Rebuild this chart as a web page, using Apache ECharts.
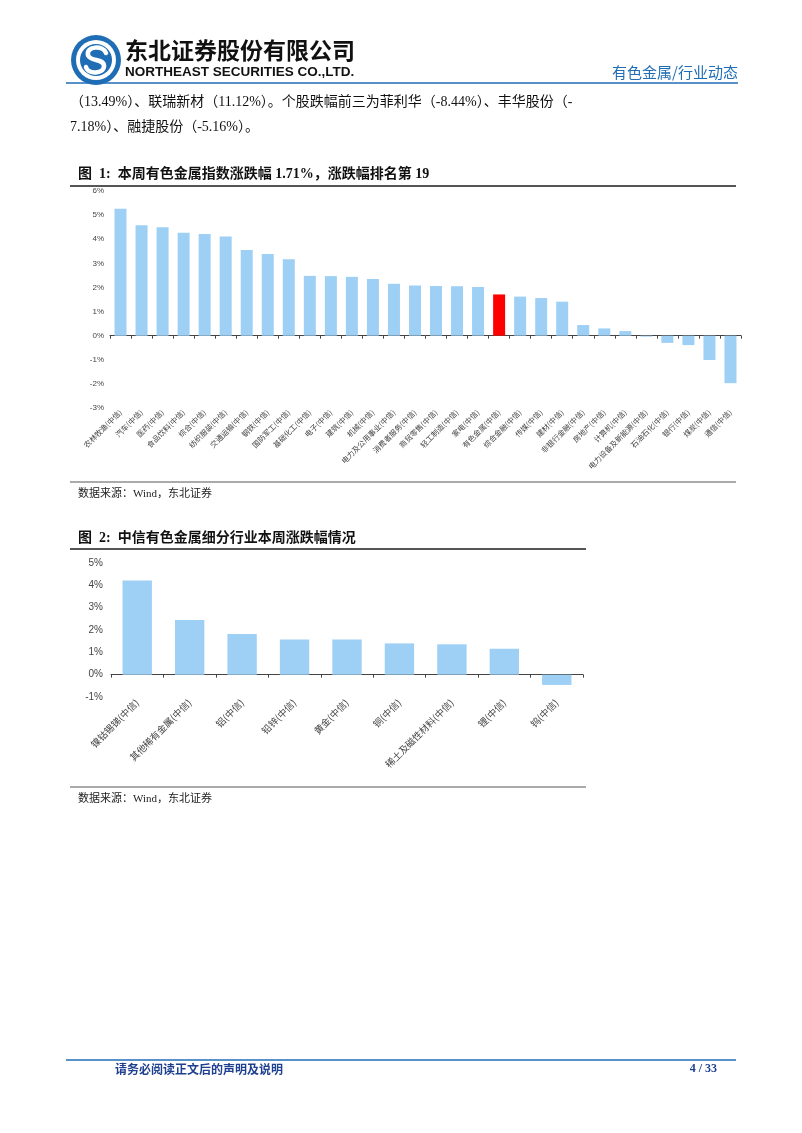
<!DOCTYPE html>
<html><head><meta charset="utf-8">
<script src="https://cdn.jsdelivr.net/npm/echarts@6/dist/echarts.min.js"></script>
<style>html,body{margin:0;padding:0;background:#fff}#c{width:802px;height:1133px}</style>
</head><body><div id="c"></div>
<script>
// ---- Data: Figure 1 (中信一级行业本周涨跌幅) ----
const industries = ['农林牧渔(中信)','汽车(中信)','医药(中信)','食品饮料(中信)','综合(中信)','纺织服装(中信)','交通运输(中信)','钢铁(中信)','国防军工(中信)','基础化工(中信)','电子(中信)','建筑(中信)','机械(中信)','电力及公用事业(中信)','消费者服务(中信)','商贸零售(中信)','轻工制造(中信)','家电(中信)','有色金属(中信)','综合金融(中信)','传媒(中信)','建材(中信)','非银行金融(中信)','房地产(中信)','计算机(中信)','电力设备及新能源(中信)','石油石化(中信)','银行(中信)','煤炭(中信)','通信(中信)'];
const industryChange = [5.26,4.58,4.50,4.27,4.22,4.11,3.55,3.39,3.17,2.48,2.47,2.44,2.35,2.15,2.08,2.06,2.05,2.02,1.71,1.62,1.56,1.41,0.44,0.30,0.19,-0.04,-0.30,-0.39,-1.01,-1.97];
const highlightIndustry = '有色金属(中信)';
const y1Ticks = {min: -3, max: 6, interval: 1};

// ---- Data: Figure 2 (中信有色金属细分行业) ----
const subIndustries = ['镍钴锡锑(中信)','其他稀有金属(中信)','铝(中信)','铅锌(中信)','黄金(中信)','铜(中信)','稀土及磁性材料(中信)','锂(中信)','钨(中信)'];
const subChange = [4.22,2.45,1.82,1.58,1.58,1.40,1.36,1.16,-0.46];
const y2Ticks = {min: -1, max: 5, interval: 1};

// ---- Texts ----
const companyCN = '东北证券股份有限公司';
const companyEN = 'NORTHEAST SECURITIES CO.,LTD.';
const headerRight = '有色金属/行业动态';
const bodyLine1 = '（13.49%）、联瑞新材（11.12%）。个股跌幅前三为菲利华（-8.44%）、丰华股份（-';
const bodyLine2 = '7.18%）、融捷股份（-5.16%）。';
const title1 = '图  1:  本周有色金属指数涨跌幅 1.71%，涨跌幅排名第 19';
const title2 = '图  2:  中信有色金属细分行业本周涨跌幅情况';
const sourceText = '数据来源：Wind，东北证券';
const footerText = '请务必阅读正文后的声明及说明';
const pageText = '4 / 33';

const SERIF = '"Liberation Serif","Noto Sans CJK SC",serif';
const CJK = '"Noto Sans CJK SC","Liberation Serif",serif';
const SANS = 'Arial,"Liberation Sans",sans-serif';
const BAR = '#9ECFF5';
const BLUE = '#1F6DB5';

const chart = echarts.init(document.getElementById('c'));

function txt(text, x, y, font, fill, align) {
  return {type: 'text', silent: true, style: {text, x, y, font, fill: fill || '#000', align: align || 'left', verticalAlign: 'middle'}};
}
function line(x1, y1, x2, y2, stroke, w) {
  return {type: 'line', silent: true, shape: {x1, y1, x2, y2}, style: {stroke, lineWidth: w}};
}
function curve(x1, y1, cpx1, cpy1, cpx2, cpy2, x2, y2) {
  return {type: 'bezierCurve', silent: true, shape: {x1, y1, cpx1, cpy1, cpx2, cpy2, x2, y2},
          style: {stroke: '#fff', lineWidth: 4.5, fill: null, lineCap: 'round'}};
}

const graphics = [
  // logo
  {type: 'circle', shape: {cx: 96, cy: 60, r: 25}, style: {fill: BLUE}},
  {type: 'circle', shape: {cx: 96, cy: 60, r: 20}, style: {fill: '#fff'}},
  {type: 'circle', shape: {cx: 96, cy: 60, r: 16}, style: {fill: BLUE}},
  curve(106, 53, 103, 45, 86, 46, 88, 55),
  curve(88, 55, 90, 62, 104, 58, 104, 66),
  curve(104, 66, 104, 74, 88, 75, 86, 67),
  txt(companyCN, 125, 50, 'bold 23px ' + CJK, '#111'),
  txt(companyEN, 125, 72, 'bold 13.5px ' + SANS, '#111'),
  txt(headerRight, 738, 72, '15px ' + CJK, BLUE, 'right'),
  line(66, 83, 738, 83, BLUE, 1.5),
  txt(bodyLine1, 70, 102, '14px ' + SERIF, '#111'),
  txt(bodyLine2, 70, 127, '14px ' + SERIF, '#111'),
  // figure 1
  txt(title1, 78, 174, 'bold 14px ' + SERIF, '#111'),
  line(70, 186, 736, 186, '#555', 2),
  line(70, 482, 736, 482, '#aaa', 2),
  txt(sourceText, 78, 494, '11px ' + SERIF, '#222'),
  // figure 2
  txt(title2, 78, 538, 'bold 14px ' + SERIF, '#111'),
  line(70, 549, 586, 549, '#555', 2),
  line(70, 787, 586, 787, '#aaa', 2),
  txt(sourceText, 78, 799, '11px ' + SERIF, '#222'),
  // footer
  line(66, 1060, 736, 1060, BLUE, 1.5),
  txt(footerText, 115, 1069, 'bold 12px ' + CJK, '#1F3F8F'),
  txt(pageText, 717, 1069, 'bold 12px ' + SERIF, '#1F3F8F', 'right')
];

const axisLineCommon = {show: true, onZero: true, lineStyle: {color: '#444', width: 1}};
const tickCommon = {show: true, interval: 0, length: 3, lineStyle: {color: '#444'}};

chart.setOption({
  animation: false,
  graphic: graphics,
  grid: [
    {left: 110, right: 61, top: 191, height: 217, containLabel: false},
    {left: 111, right: 219, top: 563, height: 134, containLabel: false}
  ],
  xAxis: [
    {gridIndex: 0, type: 'category', data: industries, position: 'bottom', axisLine: axisLineCommon,
     axisTick: tickCommon, axisLabel: {show: false}, splitLine: {show: false}},
    {gridIndex: 0, type: 'category', data: industries, position: 'bottom', axisLine: {show: false, onZero: false},
     axisTick: {show: false}, axisLabel: {interval: 0, rotate: 45, fontSize: 7.5, color: '#444', fontFamily: CJK, margin: 3}},
    {gridIndex: 1, type: 'category', data: subIndustries, position: 'bottom', axisLine: axisLineCommon,
     axisTick: tickCommon, axisLabel: {show: false}, splitLine: {show: false}},
    {gridIndex: 1, type: 'category', data: subIndustries, position: 'bottom', axisLine: {show: false, onZero: false},
     axisTick: {show: false}, axisLabel: {interval: 0, rotate: 45, fontSize: 9.5, color: '#444', fontFamily: CJK, margin: 4}}
  ],
  yAxis: [
    {gridIndex: 0, type: 'value', min: y1Ticks.min, max: y1Ticks.max, interval: y1Ticks.interval,
     axisLine: {show: false}, axisTick: {show: false}, splitLine: {show: false},
     axisLabel: {formatter: '{value}%', fontSize: 8, color: '#444', fontFamily: SANS, margin: 6}},
    {gridIndex: 1, type: 'value', min: y2Ticks.min, max: y2Ticks.max, interval: y2Ticks.interval,
     axisLine: {show: false}, axisTick: {show: false}, splitLine: {show: false},
     axisLabel: {formatter: '{value}%', fontSize: 10, color: '#444', fontFamily: SANS, margin: 8}}
  ],
  series: [
    {type: 'bar', xAxisIndex: 0, yAxisIndex: 0, barWidth: '57%',
     data: industryChange.map((v, i) => ({value: v, itemStyle: {color: industries[i] === highlightIndustry ? '#FF0000' : BAR}}))},
    {type: 'bar', xAxisIndex: 2, yAxisIndex: 1, barWidth: '56%', itemStyle: {color: BAR}, data: subChange}
  ]
});
</script></body></html>
